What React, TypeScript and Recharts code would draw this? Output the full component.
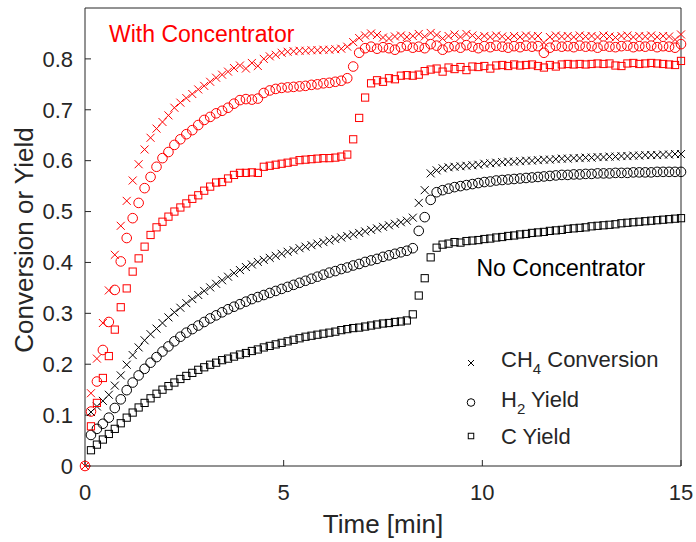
import { Scatter, ScatterChart, XAxis, YAxis } from "recharts";

const FONT = '"Liberation Sans", Arial, Helvetica, sans-serif';
const RED = "#ff0000";
const BLACK = "#000000";
const AXIS = "#262626";

// sample times in seconds (one GC sample every ~9 s)
const timeSec = [
  0, 9, 18, 27, 36, 45, 54, 63, 72, 81,
  90, 99, 108, 117, 126, 135, 144, 153, 162, 171,
  180, 189, 198, 207, 216, 225, 234, 243, 252, 261,
  270, 279, 288, 297, 306, 315, 324, 333, 342, 351,
  360, 369, 378, 387, 396, 405, 414, 423, 432, 441,
  450, 459, 468, 477, 486, 495, 504, 513, 522, 531,
  540, 549, 558, 567, 576, 585, 594, 603, 612, 621,
  630, 639, 648, 657, 666, 675, 684, 693, 702, 711,
  720, 729, 738, 747, 756, 765, 774, 783, 792, 801,
  810, 819, 828, 837, 846, 855, 864, 873, 882, 891,
  900,
];

// With concentrator (red)
const ch4With = [
  0, 0.143, 0.211, 0.281, 0.345, 0.415, 0.472, 0.521, 0.561, 0.593,
  0.622, 0.645, 0.663, 0.676, 0.689, 0.704, 0.714, 0.723, 0.731, 0.74,
  0.747, 0.755, 0.763, 0.769, 0.775, 0.782, 0.787, 0.781, 0.792, 0.786,
  0.8, 0.805, 0.808, 0.812, 0.814, 0.815, 0.816, 0.816, 0.817, 0.817,
  0.818, 0.818, 0.819, 0.82, 0.824, 0.833, 0.841, 0.846, 0.85, 0.847,
  0.842, 0.84, 0.844, 0.846, 0.843, 0.845, 0.849, 0.844, 0.851, 0.847,
  0.84, 0.845, 0.848, 0.843, 0.849, 0.846, 0.842, 0.845, 0.843, 0.846,
  0.844, 0.841, 0.845, 0.843, 0.846, 0.844, 0.845, 0.832, 0.843, 0.846,
  0.844, 0.845, 0.843, 0.846, 0.844, 0.845, 0.843, 0.846, 0.844, 0.842,
  0.845, 0.846, 0.843, 0.845, 0.844, 0.846, 0.843, 0.845, 0.844, 0.838,
  0.848,
];
const h2With = [
  0, 0.107, 0.166, 0.228, 0.283, 0.346, 0.402, 0.448, 0.487, 0.517,
  0.546, 0.568, 0.588, 0.605, 0.617, 0.631, 0.642, 0.652, 0.66, 0.67,
  0.68, 0.686, 0.693, 0.698, 0.704, 0.712, 0.719, 0.721, 0.72, 0.722,
  0.733, 0.738, 0.741, 0.743, 0.744, 0.745, 0.746, 0.747, 0.749, 0.75,
  0.752, 0.753, 0.755, 0.757, 0.762, 0.785, 0.812, 0.821, 0.824, 0.82,
  0.823, 0.821, 0.818, 0.823, 0.826, 0.822, 0.824, 0.821, 0.829, 0.826,
  0.818, 0.823, 0.825, 0.822, 0.827, 0.824, 0.821, 0.825, 0.823, 0.826,
  0.824, 0.822, 0.825, 0.823, 0.826, 0.824, 0.825, 0.812, 0.822, 0.826,
  0.824, 0.825, 0.823, 0.826, 0.824, 0.825, 0.822, 0.826, 0.824, 0.823,
  0.825, 0.826, 0.823, 0.825, 0.824, 0.826, 0.823, 0.825, 0.824, 0.822,
  0.829,
];
const cWith = [
  null, 0.078, 0.124, 0.173, 0.216, 0.268, 0.312, 0.349, 0.382, 0.408,
  0.431, 0.454, 0.469, 0.48, 0.49, 0.5, 0.508, 0.516, 0.525, 0.532,
  0.541, 0.549, 0.557, 0.558, 0.565, 0.572, 0.576, 0.576, 0.577, 0.576,
  0.588, 0.59, 0.592, 0.594, 0.596, 0.598, 0.601, 0.602, 0.603, 0.604,
  0.605, 0.605, 0.606, 0.608, 0.612, 0.642, 0.684, 0.724, 0.752, 0.758,
  0.755, 0.762, 0.76, 0.767, 0.768, 0.767, 0.769, 0.776, 0.779, 0.781,
  0.775, 0.783, 0.78, 0.784, 0.778, 0.785, 0.784, 0.786, 0.781, 0.787,
  0.788, 0.786, 0.789, 0.787, 0.788, 0.789, 0.786, 0.783, 0.788, 0.785,
  0.789, 0.79, 0.789, 0.79, 0.789, 0.79, 0.791, 0.79, 0.791, 0.787,
  0.786, 0.791, 0.792, 0.79, 0.791, 0.792, 0.791, 0.79, 0.789, 0.788,
  0.796,
];

// No concentrator (black)
const ch4No = [
  null, 0.106, 0.117, 0.128, 0.14, 0.158, 0.178, 0.199, 0.218, 0.233,
  0.247, 0.259, 0.27, 0.281, 0.292, 0.302, 0.311, 0.32, 0.328, 0.336,
  0.344, 0.351, 0.358, 0.365, 0.372, 0.379, 0.385, 0.391, 0.396, 0.401,
  0.405, 0.409, 0.413, 0.417, 0.421, 0.424, 0.428, 0.431, 0.434, 0.437,
  0.44, 0.443, 0.446, 0.449, 0.452, 0.455, 0.458, 0.461, 0.464, 0.467,
  0.47, 0.473, 0.476, 0.479, 0.482, 0.488, 0.517, 0.542, 0.575, 0.581,
  0.585, 0.587, 0.588, 0.589, 0.59, 0.591, 0.592, 0.594, 0.595, 0.596,
  0.597, 0.598, 0.598, 0.599, 0.6, 0.6, 0.601, 0.602, 0.602, 0.603,
  0.604, 0.604, 0.605, 0.605, 0.606, 0.606, 0.607, 0.607, 0.608, 0.608,
  0.609, 0.609, 0.61, 0.61, 0.611, 0.611, 0.611, 0.612, 0.612, 0.613,
  0.613,
];
const h2No = [
  null, 0.061, 0.073, 0.083, 0.095, 0.114, 0.131, 0.149, 0.164, 0.178,
  0.191, 0.203, 0.214, 0.225, 0.235, 0.245, 0.254, 0.262, 0.269, 0.276,
  0.283, 0.29, 0.296, 0.302, 0.308, 0.313, 0.318, 0.323, 0.328, 0.332,
  0.336, 0.34, 0.344, 0.348, 0.352, 0.356, 0.36, 0.364, 0.368, 0.372,
  0.376, 0.38, 0.383, 0.387, 0.39, 0.394, 0.397, 0.401, 0.404, 0.407,
  0.411, 0.414, 0.417, 0.42, 0.423, 0.428, 0.462, 0.489, 0.523, 0.538,
  0.542, 0.545, 0.548, 0.55, 0.552, 0.554, 0.556, 0.558, 0.559, 0.561,
  0.562, 0.563, 0.564, 0.565, 0.566, 0.567, 0.568, 0.569, 0.57, 0.571,
  0.572, 0.572, 0.573, 0.573, 0.574, 0.574, 0.575, 0.575, 0.575, 0.576,
  0.576, 0.576, 0.577, 0.577, 0.577, 0.577, 0.578, 0.578, 0.578, 0.578,
  0.578,
];
const cNo = [
  null, 0.031, 0.042, 0.052, 0.063, 0.073, 0.084, 0.095, 0.105, 0.115,
  0.124, 0.133, 0.142, 0.15, 0.157, 0.164, 0.171, 0.177, 0.183, 0.189,
  0.194, 0.199, 0.203, 0.208, 0.211, 0.215, 0.219, 0.222, 0.226, 0.229,
  0.233, 0.236, 0.239, 0.242, 0.245, 0.248, 0.251, 0.254, 0.256, 0.258,
  0.26, 0.262, 0.264, 0.267, 0.269, 0.271, 0.272, 0.274, 0.276, 0.278,
  0.28, 0.281, 0.283, 0.284, 0.286, 0.298, 0.335, 0.369, 0.41, 0.429,
  0.435, 0.437, 0.44, 0.439, 0.442, 0.443, 0.444, 0.446, 0.447, 0.449,
  0.45, 0.452, 0.453, 0.455, 0.456, 0.458, 0.459, 0.46, 0.462, 0.463,
  0.464, 0.466, 0.467, 0.468, 0.469, 0.471, 0.472, 0.473, 0.474, 0.475,
  0.477, 0.478, 0.479, 0.48, 0.481, 0.482, 0.483, 0.484, 0.485, 0.486,
  0.487,
];

const xTicks = [0, 5, 10, 15];
const yTicks = [0, 0.1, 0.2, 0.3, 0.4, 0.5, 0.6, 0.7, 0.8];

function toPoints(values: (number | null)[]) {
  return values
    .map((v, i) => ({ t: timeSec[i] / 60, v }))
    .filter((p) => p.v !== null);
}

function XMark({ cx, cy, color, s = 4 }: { cx: number; cy: number; color: string; s?: number }) {
  return (
    <path
      d={`M${cx - s},${cy - s}L${cx + s},${cy + s}M${cx - s},${cy + s}L${cx + s},${cy - s}`}
      stroke={color}
      strokeWidth={1}
      fill="none"
    />
  );
}

function CircleMark({ cx, cy, color, r = 4.8 }: { cx: number; cy: number; color: string; r?: number }) {
  return <circle cx={cx} cy={cy} r={r} stroke={color} strokeWidth={1} fill="none" />;
}

function SquareMark({ cx, cy, color, s = 7.2 }: { cx: number; cy: number; color: string; s?: number }) {
  return (
    <rect x={cx - s / 2} y={cy - s / 2} width={s} height={s} stroke={color} strokeWidth={1} fill="none" />
  );
}

const xShape = (color: string) => (p: any) => <XMark cx={p.cx} cy={p.cy} color={color} />;
const oShape = (color: string) => (p: any) => <CircleMark cx={p.cx} cy={p.cy} color={color} />;
const sShape = (color: string) => (p: any) => <SquareMark cx={p.cx} cy={p.cy} color={color} />;

const tickStyle = { fill: AXIS, fontSize: 22, fontFamily: FONT };

export default function App() {
  return (
    <div style={{ position: "absolute", left: 0, top: 0, width: 696, height: 542, background: "#fff" }}>
      <ScatterChart width={696} height={542} margin={{ top: 7, right: 14, bottom: 0, left: 0 }}>
        <XAxis
          dataKey="t"
          type="number"
          domain={[0, 15]}
          ticks={xTicks}
          height={76}
          stroke={AXIS}
          tick={tickStyle}
          tickSize={-6}
          tickMargin={24}
        />
        <XAxis
          xAxisId="top"
          orientation="top"
          type="number"
          domain={[0, 15]}
          ticks={xTicks}
          height={1}
          stroke={AXIS}
          tick={false}
          tickSize={-6}
        />
        <YAxis
          dataKey="v"
          type="number"
          domain={[0, 0.9]}
          ticks={yTicks}
          width={85}
          stroke={AXIS}
          tick={tickStyle}
          tickSize={-6}
          tickMargin={18}
        />
        <YAxis
          yAxisId="right"
          orientation="right"
          type="number"
          domain={[0, 0.9]}
          ticks={yTicks}
          width={1}
          stroke={AXIS}
          tick={false}
          tickSize={-6}
        />
        <Scatter name="CH4 (no)" data={toPoints(ch4No)} shape={xShape(BLACK)} isAnimationActive={false} />
        <Scatter name="H2 (no)" data={toPoints(h2No)} shape={oShape(BLACK)} isAnimationActive={false} />
        <Scatter name="C (no)" data={toPoints(cNo)} shape={sShape(BLACK)} isAnimationActive={false} />
        <Scatter name="CH4 (with)" data={toPoints(ch4With)} shape={xShape(RED)} isAnimationActive={false} />
        <Scatter name="H2 (with)" data={toPoints(h2With)} shape={oShape(RED)} isAnimationActive={false} />
        <Scatter name="C (with)" data={toPoints(cWith)} shape={sShape(RED)} isAnimationActive={false} />
      </ScatterChart>

      {/* titles, annotations and legend */}
      <svg
        width={696}
        height={542}
        style={{ position: "absolute", left: 0, top: 0, pointerEvents: "none" }}
        fontFamily={FONT}
      >
        <text x={383} y={533} textAnchor="middle" fontSize={26} fill={AXIS}>
          Time [min]
        </text>
        <text x={33} y={240} textAnchor="middle" fontSize={26} fill={AXIS} transform="rotate(-90 33 240)">
          Conversion or Yield
        </text>
        <text x={109} y={41.5} fontSize={23} fill={RED}>
          With Concentrator
        </text>
        <text x={476.5} y={276} fontSize={23} fill={BLACK}>
          No Concentrator
        </text>

        <XMark cx={471} cy={363} color={BLACK} s={3} />
        <CircleMark cx={471} cy={402.5} color={BLACK} r={3.8} />
        <SquareMark cx={471} cy={436} color={BLACK} s={5.5} />
        <text x={501} y={367} fontSize={22} fill={AXIS}>
          CH<tspan fontSize={15} dy={7}>4</tspan>
          <tspan dy={-7}> Conversion</tspan>
        </text>
        <text x={501} y={406.5} fontSize={22} fill={AXIS}>
          H<tspan fontSize={15} dy={7}>2</tspan>
          <tspan dy={-7}> Yield</tspan>
        </text>
        <text x={501} y={444} fontSize={22} fill={AXIS}>
          C Yield
        </text>
      </svg>
    </div>
  );
}
